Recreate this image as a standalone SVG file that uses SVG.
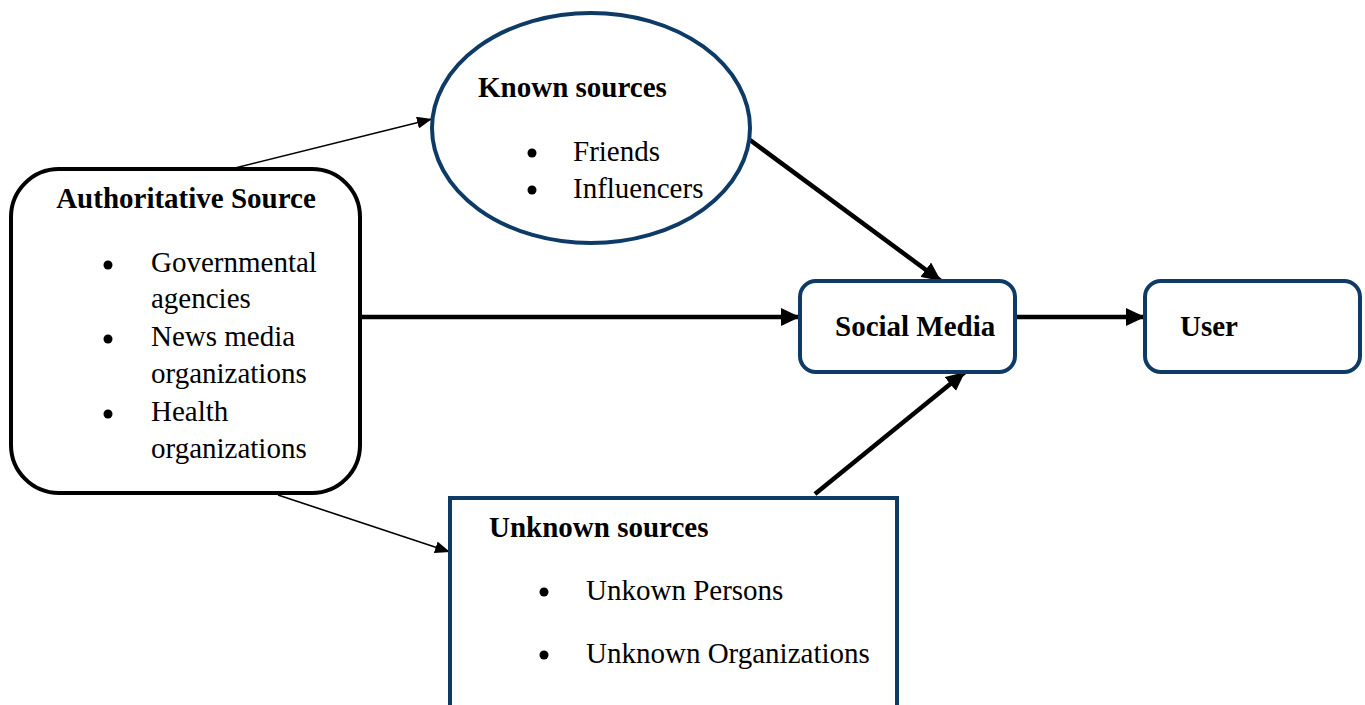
<svg xmlns="http://www.w3.org/2000/svg" width="1365" height="705" viewBox="0 0 1365 705">
<defs>
<style>
text{font-family:"Liberation Serif","Times New Roman",serif;font-size:29px;fill:#000}
.b{font-weight:bold}
.blue{fill:#fff;stroke:#0D3B66;stroke-width:4}
.thin{stroke:#000;stroke-width:1.6;fill:none}
.thick{stroke:#000;stroke-width:4.5;fill:none}
</style>
<marker id="ah" markerUnits="userSpaceOnUse" markerWidth="16" markerHeight="12" refX="15" refY="6" orient="auto">
<path d="M0,0 L15,6 L0,12 z" fill="#000"/>
</marker>
<marker id="ahb" markerUnits="userSpaceOnUse" markerWidth="20" markerHeight="18" refX="19" refY="9" orient="auto">
<path d="M0,0 L19,9 L0,18 z" fill="#000"/>
</marker>
</defs>
<rect width="1365" height="705" fill="#fff"/>
<g id="connectors">
<line class="thin" x1="235" y1="168" x2="432" y2="119" marker-end="url(#ah)"/>
<line class="thin" x1="278" y1="495" x2="450" y2="552" marker-end="url(#ah)"/>
<line class="thick" x1="362" y1="317" x2="800" y2="317" marker-end="url(#ahb)"/>
<line class="thick" x1="750" y1="140" x2="941" y2="281" marker-end="url(#ahb)"/>
<line class="thick" x1="815" y1="494" x2="965" y2="372" marker-end="url(#ahb)"/>
<line class="thick" x1="1016" y1="317" x2="1145" y2="317" marker-end="url(#ahb)"/>
</g>
<g id="authoritative">
<rect x="11" y="169" width="349" height="324" rx="48" ry="48" fill="#fff" stroke="#000" stroke-width="4"/>
<text class="b" x="186" y="208" text-anchor="middle">Authoritative Source</text>
<circle cx="108" cy="265" r="4.5"/>
<circle cx="108" cy="339" r="4.5"/>
<circle cx="108" cy="414" r="4.5"/>
<text x="151" y="272">Governmental</text>
<text x="151" y="308">agencies</text>
<text x="151" y="346">News media</text>
<text x="151" y="383">organizations</text>
<text x="151" y="421">Health</text>
<text x="151" y="458">organizations</text>
</g>
<g id="known">
<ellipse class="blue" cx="591" cy="128" rx="159" ry="115"/>
<text class="b" x="478" y="97">Known sources</text>
<circle cx="532" cy="153" r="4.5"/>
<circle cx="532" cy="190" r="4.5"/>
<text x="573" y="161">Friends</text>
<text x="573" y="198">Influencers</text>
</g>
<g id="social">
<rect class="blue" x="800" y="281" width="215" height="91" rx="16" ry="16"/>
<text class="b" x="835" y="336">Social Media</text>
</g>
<g id="user">
<rect class="blue" x="1145" y="281" width="215" height="91" rx="16" ry="16"/>
<text class="b" x="1180" y="336">User</text>
</g>
<g id="unknown">
<rect class="blue" x="450" y="498" width="447" height="230"/>
<text class="b" x="489" y="537">Unknown sources</text>
<circle cx="544" cy="592" r="4.5"/>
<circle cx="544" cy="655" r="4.5"/>
<text x="586" y="600">Unkown Persons</text>
<text x="586" y="663">Unknown Organizations</text>
</g>
</svg>
